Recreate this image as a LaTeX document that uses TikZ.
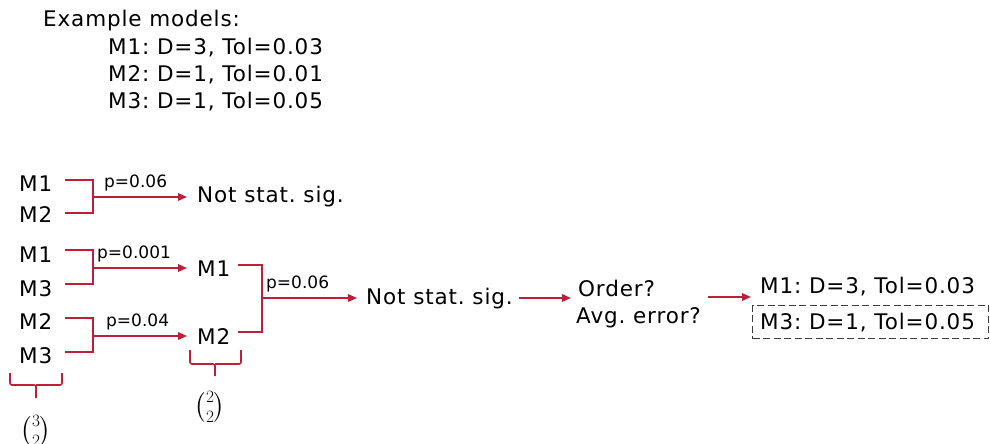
\documentclass[tikz,border=0pt]{standalone}
\usepackage{fontspec}
\setmainfont{DejaVu Sans}
\newfontfamily\widefont[LetterSpace=4]{DejaVu Sans}
\usepackage{amsmath}
\usetikzlibrary{arrows.meta}
\definecolor{rline}{RGB}{190,30,55}
\definecolor{boxgray}{RGB}{60,60,60}
\begin{document}
\frenchspacing
\begin{tikzpicture}[x=1pt,y=-1pt,
  txt/.style={anchor=west,inner sep=0pt,font=\widefont\fontsize{21.5}{26}\selectfont\frenchspacing,text=black},
  lbl/.style={anchor=south west,inner sep=0pt,font=\fontsize{17}{20}\selectfont,text=black},
  rl/.style={draw=rline,line width=1.6pt},
  arr/.style={rl,-{Triangle[length=9pt,width=7.5pt]}},
  bin/.style={inner sep=0pt,font=\fontsize{24}{28}\selectfont}]
\useasboundingbox (0,0) rectangle (990,444);
% header
\node[txt] (hdr) at (43,21) {Example models:};
\node[txt] (h1) at (108,48) {M1: D=3, Tol=0.03};
\node[txt] (h2) at (108,75) {M2: D=1, Tol=0.01};
\node[txt] (h3) at (108,102) {M3: D=1, Tol=0.05};
% group 1
\node[txt] (a1) at (19,184) {M1};
\node[txt] (a2) at (19,215) {M2};
\coordinate (a1e) at (65,180);
\coordinate (a2e) at (65,213);
\coordinate (ja) at (93,197);
\coordinate (ea) at (187,197);
\node[txt] (ns1) at (197,197) {Not stat. sig.};
\draw[rl] (a1e) -| (ja) |- (a2e);
\draw[arr] (ja) -- (ea);
\node[lbl] (pa) at (104,191) {p=0.06};
% group 2
\node[txt] (b1) at (19,255) {M1};
\node[txt] (b2) at (19,289) {M3};
\coordinate (b1e) at (65,250);
\coordinate (b2e) at (65,284);
\coordinate (jb) at (93,268);
\coordinate (eb) at (187,268);
\node[txt] (m1) at (197,269) {M1};
\draw[rl] (b1e) -| (jb) |- (b2e);
\draw[arr] (jb) -- (eb);
\node[lbl] (pb) at (97,262) {p=0.001};
% group 3
\node[txt] (c1) at (19,322) {M2};
\node[txt] (c2) at (19,356) {M3};
\coordinate (c1e) at (65,318);
\coordinate (c2e) at (65,352);
\coordinate (jc) at (93,336);
\coordinate (ec) at (187,336);
\node[txt] (m2) at (197,337) {M2};
\draw[rl] (c1e) -| (jc) |- (c2e);
\draw[arr] (jc) -- (ec);
\node[lbl] (pc) at (106,330) {p=0.04};
% second stage
\coordinate (m1e) at (238,265);
\coordinate (m2e) at (238,332);
\coordinate (jd) at (262,298);
\coordinate (ed) at (357,298);
\node[txt] (ns2) at (366,299) {Not stat. sig.};
\draw[rl] (m1e) -| (jd) |- (m2e);
\draw[arr] (jd) -- (ed);
\node[lbl] (pd) at (266,292) {p=0.06};
% order
\node[txt] (ord) at (578,288) {Order?};
\node[txt] (avg) at (576,318) {Avg. error?};
\coordinate (nse) at (519,298);
\coordinate (oin) at (571,298);
\draw[arr] (nse) -- (oin);
\coordinate (oout) at (708,297);
\coordinate (rin) at (751,297);
\draw[arr] (oout) -- (rin);
\node[txt] (r1) at (760,287) {M1: D=3, Tol=0.03};
\node[draw=boxgray,line width=1.1pt,dash pattern=on 7pt off 3.5pt,minimum width=236pt,minimum height=33pt,inner sep=0pt,anchor=west] (box) at (752,322) {};
\node[txt] (r2) at (760,323) {M3: D=1, Tol=0.05};
% braces
\coordinate (bl1) at (10,373);
\coordinate (br1) at (62,373);
\coordinate (bt1) at (36,398);
\draw[rl,rounded corners=2pt] (bl1) |- (36,385) -- (bt1);
\draw[rl,rounded corners=2pt] (br1) |- (36,385);
\node[bin] (bn1) at (36,431) {$\tbinom{3}{2}$};
\coordinate (bl2) at (190,350);
\coordinate (br2) at (241,350);
\coordinate (bt2) at (215,376);
\draw[rl,rounded corners=2pt] (bl2) |- (215,364) -- (bt2);
\draw[rl,rounded corners=2pt] (br2) |- (215,364);
\node[bin] (bn2) at (210,407) {$\tbinom{2}{2}$};
\end{tikzpicture}
\end{document}
